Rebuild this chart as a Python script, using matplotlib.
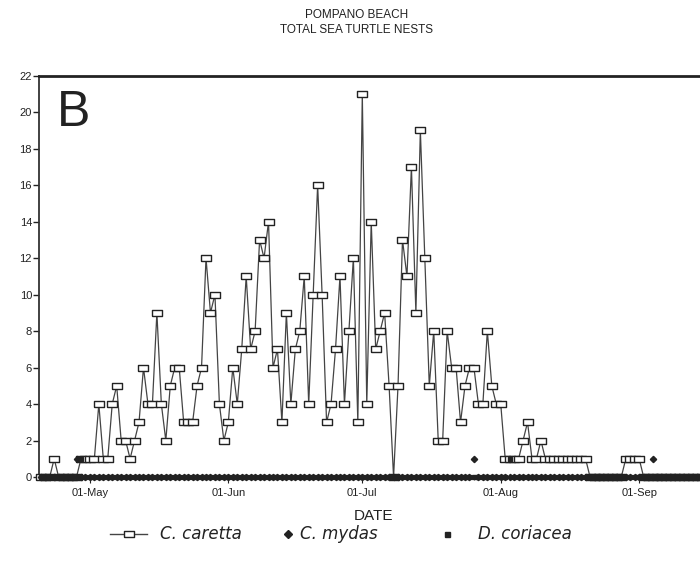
import pandas as pd
import matplotlib
matplotlib.use("Agg")
import matplotlib.pyplot as plt
import matplotlib.dates as mdates
from matplotlib.lines import Line2D

plt.rcParams["font.family"] = ["Liberation Sans Narrow", "Liberation Sans", "DejaVu Sans"]

# daily nest counts, 20 Apr - 15 Sep
caretta_apr = [0, 0, 0, 1, 0, 0, 0, 0, 0, 1, 1]
caretta_may = [1, 1, 4, 1, 1, 4, 5, 2, 2, 1, 2, 3, 6, 4, 4, 9, 4, 2, 5, 6,
               6, 3, 3, 3, 5, 6, 12, 9, 10, 4, 2]
caretta_jun = [3, 6, 4, 7, 11, 7, 8, 13, 12, 14, 6, 7, 3, 9, 4, 7, 8, 11, 4, 10,
               16, 10, 3, 4, 7, 11, 4, 8, 12, 3]
caretta_jul = [21, 4, 14, 7, 8, 9, 5, 0, 5, 13, 11, 17, 9, 19, 12, 5, 8, 2, 2, 8,
               6, 6, 3, 5, 6, 6, 4, 4, 8, 5, 4]
caretta_aug = [4, 1, 1, 1, 1, 2, 3, 1, 1, 2, 1, 1, 1, 1, 1, 1, 1, 1, 1, 1,
               0, 0, 0, 0, 0, 0, 0, 0, 1, 1, 1]
caretta_sep = [1, 0, 0, 0, 0, 0, 0, 0, 0, 0, 0, 0, 0, 0, 0]

# green and leatherback nests: days with a nest, every other day is zero
mydas_days = {"1991-04-28": 1, "1991-07-26": 1, "1991-09-04": 1}
coriacea_days = {"1991-04-29": 1, "1991-08-03": 1}

dates = pd.date_range("1991-04-20", "1991-09-15", freq="D")
caretta = caretta_apr + caretta_may + caretta_jun + caretta_jul + caretta_aug + caretta_sep
df = pd.DataFrame({"caretta": caretta}, index=dates)
df["mydas"] = pd.Series(mydas_days, dtype=float).rename(pd.to_datetime).reindex(dates).fillna(0)
df["coriacea"] = pd.Series(coriacea_days, dtype=float).rename(pd.to_datetime).reindex(dates).fillna(0)

ink = "#222222"
W, H = 700, 575
fig = plt.figure(figsize=(W / 100, H / 100), dpi=100)
ax = fig.add_axes([0.0557, 0.1704, 0.955, 0.698])

box = [(-1.4, -1), (1.4, -1), (1.4, 1), (-1.4, 1), (-1.4, -1)]
sq_style = dict(marker=box, ms=7, mfc="white", mec=ink, mew=1.0)
ax.plot(df.index, df["caretta"], color="#444444", lw=0.9, clip_on=False, zorder=3, **sq_style)
ax.plot(df.index, df["mydas"], ls="none", marker="D", ms=3.2, color=ink, clip_on=False, zorder=4)
ax.plot(df.index, df["coriacea"], ls="none", marker="s", ms=3.2, color=ink, clip_on=False, zorder=4)

x0 = mdates.date2num(pd.Timestamp("1991-05-01"))
ax.set_xlim(x0 - 11.4, x0 + 138.3)
ax.set_ylim(0, 22)
ax.set_yticks(range(0, 23, 2))

ax.xaxis.set_major_locator(mdates.MonthLocator(bymonthday=1))
ax.xaxis.set_major_formatter(mdates.DateFormatter("%d-%b"))
ax.xaxis.set_minor_locator(mdates.DayLocator())
ax.tick_params(axis="x", which="major", length=4, width=0.8, labelsize=8, pad=4, colors=ink)
ax.tick_params(axis="x", which="minor", length=2.5, width=0.6, colors="#333333")
ax.tick_params(axis="y", length=4, width=1.0, labelsize=8, pad=1, colors=ink)

ax.spines["right"].set_visible(False)
ax.spines["top"].set_linewidth(2.0)
ax.spines["top"].set_color(ink)
ax.spines["left"].set_linewidth(1.3)
ax.spines["left"].set_color("#333333")
ax.spines["bottom"].set_linewidth(1.2)
ax.spines["bottom"].set_color(ink)

ax.set_xlabel("DATE", fontsize=11, family=["Liberation Sans", "DejaVu Sans"], color=ink, labelpad=8)
ax.text(0.027, 0.965, "B", transform=ax.transAxes, fontsize=36, va="top", ha="left",
        family=["Liberation Sans", "DejaVu Sans"], color=ink)

fig.text(0.51, 1 - 15 / H, "POMPANO BEACH", ha="center", va="center", fontsize=8.5, color=ink)
fig.text(0.51, 1 - 30 / H, "TOTAL SEA TURTLE NESTS", ha="center", va="center", fontsize=8.5, color=ink)

# legend row under the axis label
ly = 1 - 534 / H
fig.add_artist(Line2D([110 / W, 147 / W], [ly, ly], color="#444444", lw=1.0))
fig.add_artist(Line2D([128.5 / W], [ly], ls="none", **sq_style))
fig.add_artist(Line2D([288 / W], [ly], ls="none", marker="D", ms=3.6, color=ink))
fig.add_artist(Line2D([447 / W], [ly], ls="none", marker="s", ms=3.6, color=ink))
leg_font = dict(family="DejaVu Sans", style="italic", fontsize=12, color=ink, va="center", ha="left")
fig.text(160 / W, ly, "C. caretta", **leg_font)
fig.text(300 / W, ly, "C. mydas", **leg_font)
fig.text(478 / W, ly, "D. coriacea", **leg_font)

fig.savefig("out.png", dpi=100)
